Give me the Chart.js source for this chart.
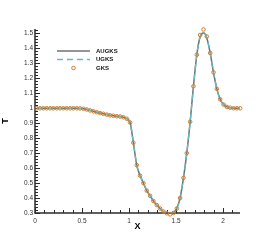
<!DOCTYPE html>
<html>
<head>
<meta charset="utf-8">
<script src="https://cdn.jsdelivr.net/npm/chart.js@4"></script>
<style>
  html, body { margin: 0; padding: 0; background: #fff; }
</style>
</head>
<body>
<canvas id="chart" width="273" height="242"></canvas>
<script>
// cell centres along X
const xValues = [
  0.018, 0.053, 0.089, 0.124, 0.160, 0.195, 0.231, 0.266, 0.302, 0.337,
  0.373, 0.408, 0.444, 0.479, 0.515, 0.550, 0.585, 0.621, 0.656, 0.692,
  0.727, 0.763, 0.798, 0.834, 0.869, 0.905, 0.940, 0.976, 1.011, 1.046,
  1.082, 1.117, 1.153, 1.188, 1.224, 1.259, 1.295, 1.330, 1.366, 1.401,
  1.437, 1.472, 1.508, 1.543, 1.579, 1.614, 1.650, 1.685, 1.721, 1.756,
  1.792, 1.827, 1.863, 1.898, 1.934, 1.969, 2.005, 2.040, 2.076, 2.111,
  2.147, 2.182
];

const gksT = [
  1.000, 1.000, 1.000, 1.000, 1.000, 1.000, 1.000, 1.000, 1.000, 1.000,
  1.000, 1.000, 1.000, 0.999, 0.997, 0.992, 0.986, 0.980, 0.974, 0.968,
  0.963, 0.958, 0.953, 0.950, 0.947, 0.945, 0.940, 0.930, 0.905, 0.770,
  0.620, 0.550, 0.500, 0.450, 0.415, 0.380, 0.353, 0.330, 0.310, 0.298,
  0.291, 0.300, 0.330, 0.400, 0.535, 0.700, 0.910, 1.147, 1.358, 1.490,
  1.527, 1.480, 1.370, 1.240, 1.130, 1.060, 1.025, 1.009, 1.004, 1.000,
  1.000, 1.000
];

const augksT = [
  1.000, 1.000, 1.000, 1.000, 1.000, 1.000, 1.000, 1.000, 1.000, 1.000,
  1.000, 1.000, 1.000, 0.999, 0.997, 0.992, 0.986, 0.980, 0.974, 0.968,
  0.963, 0.958, 0.953, 0.950, 0.947, 0.945, 0.940, 0.930, 0.905, 0.770,
  0.620, 0.550, 0.500, 0.450, 0.415, 0.380, 0.353, 0.330, 0.310, 0.299,
  0.295, 0.302, 0.332, 0.400, 0.535, 0.700, 0.910, 1.147, 1.358, 1.478,
  1.503, 1.470, 1.370, 1.240, 1.130, 1.060, 1.025, 1.009, 1.004, 1.000,
  1.000, 1.000
];

const ugksT = [
  1.000, 1.000, 1.000, 1.000, 1.000, 1.000, 1.000, 1.000, 1.000, 1.000,
  1.000, 1.000, 1.000, 0.999, 0.997, 0.992, 0.986, 0.980, 0.974, 0.968,
  0.963, 0.958, 0.953, 0.950, 0.947, 0.945, 0.940, 0.930, 0.905, 0.770,
  0.620, 0.550, 0.500, 0.450, 0.415, 0.380, 0.353, 0.330, 0.310, 0.299,
  0.295, 0.302, 0.332, 0.400, 0.535, 0.700, 0.910, 1.147, 1.358, 1.480,
  1.505, 1.473, 1.370, 1.240, 1.130, 1.060, 1.025, 1.009, 1.004, 1.000,
  1.000, 1.000
];

const xTicks = [0, 0.5, 1, 1.5, 2];
const yTicks = [0.3, 0.4, 0.5, 0.6, 0.7, 0.8, 0.9, 1, 1.1, 1.2, 1.3, 1.4, 1.5];

const toPoints = (ys) => xValues.map((x, i) => ({ x, y: ys[i] }));

const FONT = '"Liberation Sans", Arial, sans-serif';

// tecplot style axes: lines + inward ticks
const axesPlugin = {
  id: 'tecAxes',
  beforeDatasetsDraw(chart) {
    const { ctx, chartArea: a, scales: { x, y } } = chart;
    ctx.save();
    ctx.strokeStyle = '#2b2b2b';
    ctx.lineWidth = 1;
    ctx.beginPath();
    // minor x ticks every 0.1
    for (let i = 0; i * 0.1 <= x.max + 1e-9; i++) {
      const px = Math.round(x.getPixelForValue(i * 0.1)) + 0.5;
      const len = (i % 5 === 0) ? 5 : 3;
      ctx.moveTo(px, a.bottom);
      ctx.lineTo(px, a.bottom - len);
    }
    // minor y ticks every 0.02
    for (let i = 15; i * 0.02 <= y.max + 1e-9; i++) {
      const py = Math.round(y.getPixelForValue(i * 0.02)) + 0.5;
      const len = (i % 5 === 0) ? 5 : 3;
      ctx.moveTo(a.left, py);
      ctx.lineTo(a.left + len, py);
    }
    ctx.stroke();

    ctx.lineWidth = 1.5;
    ctx.beginPath();
    ctx.moveTo(a.left, a.top);
    ctx.lineTo(a.left, a.bottom);
    ctx.lineTo(a.right, a.bottom);
    ctx.stroke();
    ctx.restore();
  }
};

const legendPlugin = {
  id: 'innerLegend',
  afterDatasetsDraw(chart) {
    const { ctx, chartArea: a } = chart;
    const x0 = a.left + 22;
    const sampleW = 33;
    let yy = a.top + 22;
    ctx.save();
    chart.data.datasets.forEach((ds) => {
      if (ds.showLine === false) {
        ctx.strokeStyle = ds.pointBorderColor;
        ctx.lineWidth = ds.pointBorderWidth;
        ctx.beginPath();
        ctx.arc(x0 + sampleW / 2, yy, ds.pointRadius, 0, Math.PI * 2);
        ctx.stroke();
      } else {
        ctx.strokeStyle = ds.borderColor;
        ctx.lineWidth = ds.borderWidth;
        ctx.setLineDash(ds.borderDash || []);
        ctx.beginPath();
        ctx.moveTo(x0, yy);
        ctx.lineTo(x0 + sampleW, yy);
        ctx.stroke();
        ctx.setLineDash([]);
      }
      ctx.fillStyle = '#111';
      ctx.font = 'bold 6px "Liberation Sans Narrow", "Liberation Sans", Arial, sans-serif';
      ctx.textBaseline = 'middle';
      ctx.fillText(ds.label, x0 + sampleW + 6, yy);
      yy += 8.5;
    });
    ctx.restore();
  }
};

new Chart(document.getElementById('chart'), {
  type: 'scatter',
  data: {
    datasets: [
      {
        label: 'AUGKS',
        data: toPoints(augksT),
        showLine: true,
        borderColor: '#707070',
        borderWidth: 1.5,
        pointRadius: 0,
        cubicInterpolationMode: 'monotone',
        order: 2
      },
      {
        label: 'UGKS',
        data: toPoints(ugksT),
        showLine: true,
        borderColor: '#62bcc2',
        borderWidth: 1.3,
        borderDash: [6, 4],
        pointRadius: 0,
        cubicInterpolationMode: 'monotone',
        order: 1
      },
      {
        label: 'GKS',
        data: toPoints(gksT),
        showLine: false,
        pointRadius: 1.8,
        pointBorderWidth: 1,
        pointBorderColor: '#cf7d2e',
        pointBackgroundColor: 'rgba(255,255,255,0)',
        clip: false,
        order: 0
      }
    ]
  },
  options: {
    responsive: false,
    animation: false,
    devicePixelRatio: 1,
    layout: { padding: { top: 29, right: 33, bottom: 0, left: 0 } },
    plugins: {
      legend: { display: false },
      tooltip: { enabled: false }
    },
    scales: {
      x: {
        type: 'linear',
        min: 0,
        max: 2.18,
        border: { display: false },
        grid: { display: false, drawTicks: false },
        afterFit: (s) => { s.height = 29; },
        afterBuildTicks: (s) => { s.ticks = xTicks.map(v => ({ value: v })); },
        ticks: {
          padding: 4,
          maxRotation: 0,
          color: '#333',
          font: { family: FONT, size: 6.5 },
          callback: (v) => String(v)
        },
        title: {
          display: true,
          text: 'X',
          color: '#000',
          padding: { top: 0, bottom: 10 },
          font: { family: FONT, size: 9, weight: 'bold' }
        }
      },
      y: {
        type: 'linear',
        min: 0.3,
        max: 1.53,
        border: { display: false },
        grid: { display: false, drawTicks: false },
        afterFit: (s) => { s.width = 35; },
        afterBuildTicks: (s) => { s.ticks = yTicks.map(v => ({ value: v })); },
        ticks: {
          padding: 2,
          color: '#333',
          font: { family: FONT, size: 6.5 },
          callback: (v) => String(v)
        },
        title: {
          display: true,
          text: 'T',
          color: '#000',
          padding: { top: 0, bottom: 0 },
          font: { family: FONT, size: 9, weight: 'bold' }
        }
      }
    }
  },
  plugins: [axesPlugin, legendPlugin]
});
</script>
</body>
</html>
